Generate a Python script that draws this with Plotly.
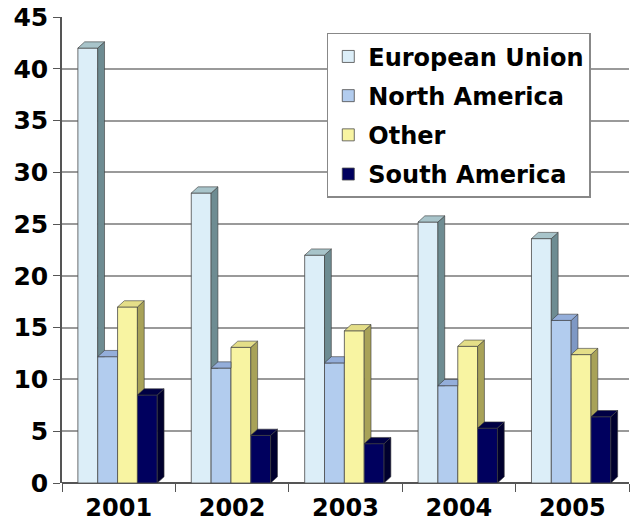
import plotly.graph_objects as go

years = ["2001", "2002", "2003", "2004", "2005"]
series_names = ["European Union", "North America", "Other", "South America"]
eu = [42.0, 28.0, 22.0, 25.2, 23.6]
na = [12.2, 11.1, 11.6, 9.4, 15.7]
other = [17.0, 13.1, 14.7, 13.2, 12.4]
sa = [8.5, 4.6, 3.8, 5.3, 6.4]
y_ticks = [0, 5, 10, 15, 20, 25, 30, 35, 40, 45]

values = [eu, na, other, sa]
front_colors = ["#DCEEF8", "#B2CCEE", "#F8F4A2", "#00005E"]
side_colors = ["#6E8C92", "#7E98C4", "#A8A258", "#00002E"]
top_colors = ["#A8C4CA", "#94AEDA", "#E4DE88", "#000044"]

w = 0.175
dx = 0.06
dy = 0.6
offsets = [(k - 1.5) * w - 0.01 for k in range(4)]
xs = list(range(len(years)))

fig = go.Figure()
for k in range(4):
    fig.add_trace(go.Bar(
        x=[i + offsets[k] for i in xs], y=values[k], width=w,
        name=series_names[k], legendgroup=series_names[k],
        marker=dict(color=front_colors[k], line=dict(color="#4a4a4a", width=0.8)),
        showlegend=True,
    ))

# 3D side and top faces, computed from the data values
for i in xs:
    for k in range(4):
        v = values[k][i]
        L = i + offsets[k] - w / 2
        R = L + w
        nxt = values[k + 1][i] if k < 3 else None
        sx, sy = None, None
        if nxt is None:
            sx = [R, R + dx, R + dx, R, R]
            sy = [0, dy, v + dy, v, 0]
        elif nxt <= v:
            sx = [R, R + dx, R + dx, R, R]
            sy = [nxt, nxt, v + dy, v, nxt]
        elif nxt < v + dy:
            t0 = (nxt - v) / dy
            sx = [R + t0 * dx, R + dx, R + dx, R + t0 * dx]
            sy = [nxt, nxt, v + dy, nxt]
        if sx is not None:
            fig.add_trace(go.Scatter(x=sx, y=sy, fill="toself", mode="lines",
                                     fillcolor=side_colors[k],
                                     line=dict(color="#3a3a3a", width=0.6),
                                     showlegend=False, hoverinfo="skip"))
        if nxt is not None and nxt >= v + dy / 2:
            tx = [L, R, R, L + dx, L]
            ty = [v, v, v + dy, v + dy, v]
        else:
            tx = [L, R, R + dx, L + dx, L]
            ty = [v, v, v + dy, v + dy, v]
        fig.add_trace(go.Scatter(x=tx, y=ty, fill="toself", mode="lines",
                                 fillcolor=top_colors[k],
                                 line=dict(color="#3a3a3a", width=0.6),
                                 showlegend=False, hoverinfo="skip"))

fig.update_layout(
    width=631, height=527,
    margin=dict(l=62, r=2, t=17, b=44),
    paper_bgcolor="white", plot_bgcolor="white",
    barmode="overlay",
    font=dict(family="DejaVu Sans", size=20, color="black"),
    legend=dict(
        x=0.467, y=0.966, xanchor="left", yanchor="top",
        bgcolor="white", bordercolor="#888888", borderwidth=1.5,
        font=dict(family="DejaVu Sans", size=24, color="black", weight="bold"),
        itemwidth=30, tracegroupgap=5,
    ),
    xaxis=dict(
        range=[-0.5, 4.5], tickvals=xs, ticktext=years,
        showgrid=False, zeroline=False, automargin=False,
        showline=False, ticks="", ticklabelstandoff=8,
        tickfont=dict(family="DejaVu Sans", size=24, color="black", weight="bold"),
        minor=dict(ticks="outside", tick0=0.5, dtick=1, ticklen=8,
                   tickcolor="#555555", showgrid=False),
    ),
    yaxis=dict(
        range=[0, 45], tickvals=y_ticks, automargin=False,
        showgrid=True, gridcolor="#9a9a9a", gridwidth=1.5,
        zeroline=True, zerolinecolor="#555555", zerolinewidth=2,
        showline=True, linecolor="#555555", linewidth=1.5,
        ticks="outside", ticklen=7, tickcolor="#555555",
        tickfont=dict(family="DejaVu Sans", size=25, color="black", weight="bold"),
    ),
)

fig.write_html("out.html")
